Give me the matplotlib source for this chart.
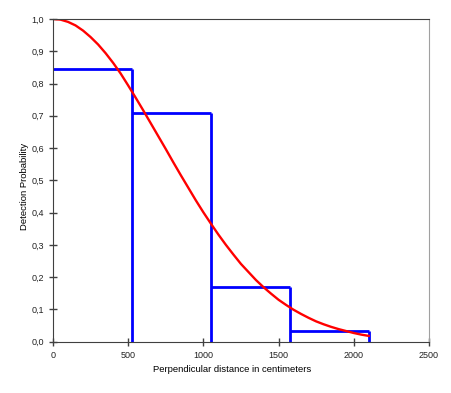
import numpy as np
import matplotlib.pyplot as plt

plt.rcParams['font.family'] = ['Liberation Sans', 'DejaVu Sans']

# histogram of detections (bin edges in cm, heights)
bin_edges = [0, 525, 1050, 1575, 2100]
bin_heights = [0.844, 0.708, 0.170, 0.034]

# fitted detection function, every 50 cm
curve_x = [0, 50, 100, 150, 200, 250, 300, 350, 400, 450, 500,
           550, 600, 650, 700, 750, 800, 850, 900, 950, 1000,
           1050, 1100, 1150, 1200, 1250, 1300, 1350, 1400, 1450, 1500,
           1550, 1600, 1650, 1700, 1750, 1800, 1850, 1900, 1950, 2000,
           2050, 2100]
curve_y = [1.000, 0.998, 0.991, 0.980, 0.964, 0.944, 0.921, 0.894, 0.864, 0.831, 0.794,
           0.756, 0.717, 0.677, 0.637, 0.597, 0.556, 0.516, 0.477, 0.438, 0.401,
           0.366, 0.332, 0.300, 0.270, 0.241, 0.216, 0.191, 0.169, 0.149, 0.130,
           0.114, 0.099, 0.086, 0.074, 0.063, 0.054, 0.046, 0.039, 0.033, 0.027,
           0.022, 0.018]

xticks = [0, 500, 1000, 1500, 2000, 2500]
yticks = np.round(np.arange(0, 1.01, 0.1), 1)

fig = plt.figure(figsize=(4.51, 3.93), dpi=100)
ax = fig.add_axes([0.1175, 0.1305, 0.951 - 0.1175, 0.9517 - 0.1305])

# histogram outline: tops plus the right-hand edge of each bin
ax.hlines(bin_heights, bin_edges[:-1], bin_edges[1:], color='#0000ff',
          linewidth=2, zorder=2)
ax.vlines(bin_edges[1:], 0, bin_heights, color='#0000ff', linewidth=2, zorder=2)
ax.plot(curve_x, curve_y, color='#ff0000', linewidth=1.7, zorder=3)

ax.set_xlim(0, 2500)
ax.set_ylim(0, 1.0)
ax.set_xticks(xticks)
ax.set_yticks(yticks)
ax.set_yticklabels([f"{v:.1f}".replace('.', ',') for v in yticks])
ax.tick_params(direction='inout', length=6, width=1, color='#404040',
               labelsize=6.5, labelcolor='#222222')

for side in ['left', 'bottom', 'top']:
    ax.spines[side].set_color('#404040')
    ax.spines[side].set_zorder(4)
ax.spines['right'].set_color('#a0a0a0')

ax.set_xlabel('Perpendicular distance in centimeters', fontsize=6.8)
ax.set_ylabel('Detection Probability', fontsize=6.8)
ax.xaxis.set_label_coords(0.476, -0.071)
ax.yaxis.set_label_coords(-0.064, 0.48)

fig.savefig('out.png', dpi=100)
